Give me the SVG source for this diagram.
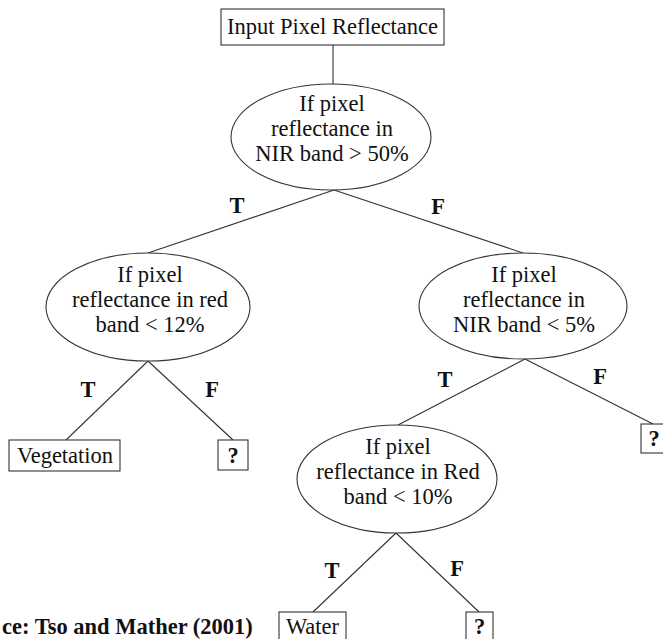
<svg xmlns="http://www.w3.org/2000/svg" width="663" height="639" viewBox="0 0 663 639">
  <style>
    .txt { font-family: "Liberation Serif", "Times New Roman", serif; font-size: 22.5px; fill: #111; text-anchor: middle; }
    .lbl { font-family: "Liberation Serif", "Times New Roman", serif; font-size: 22.5px; font-weight: bold; fill: #111; text-anchor: middle; }
    .src { font-family: "Liberation Serif", "Times New Roman", serif; font-size: 22.5px; font-weight: bold; fill: #111; }
    .shape { fill: #fff; stroke: #333; stroke-width: 1.1; }
    .edge { stroke: #333; stroke-width: 1.1; fill: none; }
  </style>
  <rect width="663" height="639" fill="#fff"/>

  <!-- connectors and their T / F branch labels -->
  <g id="connectors">
    <line class="edge" x1="333" y1="45" x2="333" y2="84"/>
    <line class="edge" x1="334" y1="190" x2="148" y2="253"/>
    <line class="edge" x1="334" y1="190" x2="523" y2="253"/>
    <line class="edge" x1="148" y1="361" x2="66" y2="440"/>
    <line class="edge" x1="148" y1="361" x2="233" y2="440"/>
    <line class="edge" x1="525" y1="359" x2="398" y2="425"/>
    <line class="edge" x1="525" y1="359" x2="653" y2="424"/>
    <line class="edge" x1="396" y1="533" x2="313" y2="612"/>
    <line class="edge" x1="396" y1="533" x2="479" y2="612"/>
    <text class="lbl" x="237" y="213">T</text>
    <text class="lbl" x="438" y="214">F</text>
    <text class="lbl" x="88" y="397">T</text>
    <text class="lbl" x="212" y="397">F</text>
    <text class="lbl" x="445" y="387">T</text>
    <text class="lbl" x="600" y="384">F</text>
    <text class="lbl" x="332" y="578">T</text>
    <text class="lbl" x="457" y="576">F</text>
  </g>

  <g id="input">
    <rect class="shape" x="221" y="9" width="223" height="36"/>
    <text class="txt" x="332.5" y="34">Input Pixel Reflectance</text>
  </g>

  <g id="nir-high">
    <ellipse class="shape" cx="331" cy="137" rx="100" ry="53"/>
    <text class="txt" x="332" y="111">If pixel</text>
    <text class="txt" x="332" y="136">reflectance in</text>
    <text class="txt" x="332" y="161">NIR band &gt; 50%</text>
  </g>

  <g id="red-low">
    <ellipse class="shape" cx="148" cy="307" rx="102" ry="54"/>
    <text class="txt" x="150" y="282">If pixel</text>
    <text class="txt" x="150" y="307">reflectance in red</text>
    <text class="txt" x="150" y="332">band &lt; 12%</text>
  </g>

  <g id="nir-low">
    <ellipse class="shape" cx="523" cy="306" rx="104" ry="53"/>
    <text class="txt" x="524" y="282">If pixel</text>
    <text class="txt" x="524" y="307">reflectance in</text>
    <text class="txt" x="524" y="332">NIR band &lt; 5%</text>
  </g>

  <g id="red-water">
    <ellipse class="shape" cx="397" cy="479" rx="100" ry="54"/>
    <text class="txt" x="398" y="454">If pixel</text>
    <text class="txt" x="398" y="479">reflectance in Red</text>
    <text class="txt" x="398" y="504">band &lt; 10%</text>
  </g>

  <g id="vegetation">
    <rect class="shape" x="9" y="440" width="111" height="31"/>
    <text class="txt" x="65" y="463">Vegetation</text>
  </g>

  <g id="unknown-1">
    <rect class="shape" x="218" y="440" width="30" height="30"/>
    <text class="lbl" x="233" y="463">?</text>
  </g>

  <g id="unknown-2">
    <rect class="shape" x="641" y="424" width="24" height="29"/>
    <text class="lbl" x="654" y="446">?</text>
  </g>

  <g id="water">
    <rect class="shape" x="279" y="612" width="67" height="32"/>
    <text class="txt" x="312.5" y="634">Water</text>
  </g>

  <g id="unknown-3">
    <rect class="shape" x="466" y="612" width="27" height="32"/>
    <text class="lbl" x="479.5" y="634">?</text>
  </g>

  <text class="src" x="2" y="634">ce: Tso and Mather (2001)</text>
</svg>
